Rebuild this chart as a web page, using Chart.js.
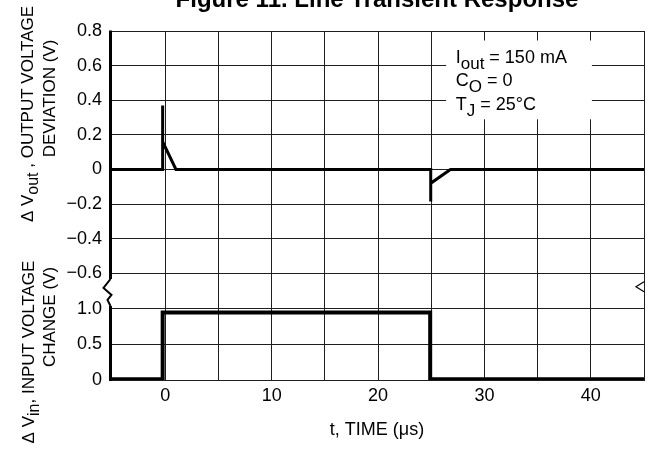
<!DOCTYPE html>
<html>
<head>
<meta charset="utf-8">
<script src="https://cdn.jsdelivr.net/npm/chart.js@4/dist/chart.umd.min.js"></script>
<style>
html,body{margin:0;padding:0;background:#fff;}
#wrap{width:649px;height:450px;position:relative;}
</style>
</head>
<body>
<div id="wrap"><canvas id="c" width="649" height="450"></canvas></div>
<script>
// ---- data ----
const outTime = [-5.2, -0.25, -0.25, -0.25, 1.0, 24.95, 24.95, 24.95, 26.8, 45];
const outDev  = [0, 0, 0.37, 0.16, 0, 0, -0.185, -0.08, 0, 0];
const inTime  = [-5.2, -0.25, -0.25, 24.9, 24.9, 45];
const inChange= [0.01, 0.01, 0.95, 0.95, 0.01, 0.01];

const xTicks  = [0, 5, 10, 15, 20, 25, 30, 35, 40, 45];
const xLabels = ['0', '', '10', '', '20', '', '30', '', '40', ''];
const y1Ticks = [-0.6, -0.4, -0.2, 0, 0.2, 0.4, 0.6, 0.8];
const y1Labels= ['\u22120.6', '\u22120.4', '\u22120.2', '0', '0.2', '0.4', '0.6', '0.8'];
const y2Ticks = [0, 0.5, 1.0, 1.5];
const y2Labels= ['0', '0.5', '1.0', ''];

const titleText = 'Figure 11. Line Transient Response';
const xTitle = 't, TIME (\u03bcs)';
const noteLines = [['I', 'out', ' = 150 mA'], ['C', 'O', ' = 0'], ['T', 'J', ' = 25\u00b0C']];
const y1Title = [['\u0394 V', 'out', ' , OUTPUT VOLTAGE'], ['DEVIATION (V)']];
const y2Title = [['\u0394 V', 'in', ', INPUT VOLTAGE'], ['CHANGE (V)']];

const FONT = '"Liberation Sans", Arial, Helvetica, sans-serif';
const GRID = '#1e1e1e';

function pts(xs, ys){ return xs.map((x,i)=>({x:x, y:ys[i]})); }

function drawRich(ctx, parts, x, y, size, subDy){
  // parts: [normal, sub, normal, ...]
  let cx = x;
  parts.forEach((p,i)=>{
    const sub = (i % 2 === 1);
    ctx.font = (sub ? size-1 : size) + 'px ' + FONT;
    ctx.fillText(p, cx, sub ? y + subDy : y);
    cx += ctx.measureText(p).width;
  });
}
function richWidth(ctx, parts, size){
  let w = 0;
  parts.forEach((p,i)=>{ ctx.font = ((i%2===1)? size-1 : size) + 'px ' + FONT; w += ctx.measureText(p).width; });
  return w;
}

const decor = {
  id: 'decor',
  beforeDatasetsDraw(chart){
    const {ctx, scales} = chart;
    const x = scales.x, y1 = scales.y1;
    ctx.save();
    const bx0 = x.getPixelForValue(26.4), bx1 = x.getPixelForValue(40.1);
    const by0 = y1.getPixelForValue(0.745), by1 = y1.getPixelForValue(0.29);
    ctx.fillStyle = '#fff';
    ctx.fillRect(bx0, by0, bx1 - bx0, by1 - by0);
    ctx.fillStyle = '#000';
    ctx.textBaseline = 'alphabetic';
    ctx.textAlign = 'left';
    const tx = x.getPixelForValue(27.3);
    noteLines.forEach((ln, i)=>{
      drawRich(ctx, ln, tx, by0 + 22 + i * 23.5, 18, 6);
    });
    ctx.restore();
  },
  afterDatasetsDraw(chart){
    const {ctx, chartArea: ca, scales} = chart;
    const y2 = scales.y2;
    ctx.save();
    ctx.strokeStyle = '#000';
    ctx.lineWidth = 3;
    const lx = ca.left + 0.5;
    const gTop = y2.getPixelForValue(1.42), gBot = y2.getPixelForValue(1.04);
    ctx.beginPath();
    ctx.moveTo(lx, ca.top - 0.5); ctx.lineTo(lx, gTop);
    ctx.moveTo(lx, gBot); ctx.lineTo(lx, ca.bottom + 1);
    ctx.stroke();
    // break squiggle on left axis
    ctx.lineWidth = 2;
    ctx.beginPath();
    ctx.moveTo(lx, gTop);
    ctx.lineTo(lx - 7, gTop + 9);
    ctx.lineTo(lx + 1, gTop + 16);
    ctx.lineTo(lx - 3, gTop + 21);
    ctx.lineTo(lx, gBot);
    ctx.stroke();
    // partial squiggle at right edge
    ctx.lineWidth = 1.2;
    const ry = y2.getPixelForValue(1.31);
    ctx.beginPath();
    ctx.moveTo(ca.right, ry - 5);
    ctx.lineTo(ca.right - 8, ry);
    ctx.lineTo(ca.right, ry + 5);
    ctx.stroke();
    ctx.restore();
  },
  afterDraw(chart){
    const {ctx, chartArea: ca} = chart;
    ctx.save();
    ctx.fillStyle = '#000';
    ctx.textBaseline = 'alphabetic';
    // main title
    ctx.textAlign = 'center';
    ctx.font = 'bold 24px ' + FONT;
    ctx.fillText(titleText, (ca.left + ca.right) / 2, 7);
    // x title
    ctx.font = '18px ' + FONT;
    ctx.fillText(xTitle, (ca.left + ca.right) / 2, 435);
    // y titles (rotated)
    ctx.textAlign = 'left';
    const drawRot = (parts, bx, cy, size, subDy) => {
      const w = richWidth(ctx, parts, size);
      ctx.save();
      ctx.translate(bx, cy);
      ctx.rotate(-Math.PI / 2);
      drawRich(ctx, parts, -w / 2, 0, size, subDy);
      ctx.restore();
    };
    drawRot(y1Title[0], 33, 114, 17, 5);
    drawRot(y1Title[1], 55, 98.5, 17, 5);
    drawRot(y2Title[0], 34, 352, 17, 5);
    drawRot(y2Title[1], 55, 317, 17, 5);
    ctx.restore();
  }
};

Chart.defaults.font.family = FONT;
Chart.defaults.color = '#000';

new Chart(document.getElementById('c'), {
  type: 'scatter',
  data: {
    datasets: [
      { label: 'Output deviation', data: pts(outTime, outDev), yAxisID: 'y1', showLine: true,
        borderColor: '#000', borderWidth: 3, pointRadius: 0, tension: 0, borderJoinStyle: 'miter', fill: false },
      { label: 'Input change', data: pts(inTime, inChange), yAxisID: 'y2', showLine: true,
        borderColor: '#000', borderWidth: 4, pointRadius: 0, tension: 0, borderJoinStyle: 'miter', fill: false }
    ]
  },
  options: {
    responsive: false,
    animation: false,
    devicePixelRatio: 1,
    layout: { padding: { top: 31, right: 0, bottom: 0, left: 0 } },
    plugins: { legend: { display: false }, title: { display: false }, tooltip: { enabled: false } },
    scales: {
      x: {
        type: 'linear', min: -5.2, max: 45,
        afterBuildTicks: (s) => { s.ticks = xTicks.map(v => ({ value: v })); },
        afterFit: (s) => { s.height = 70; },
        ticks: { font: { size: 18 }, color: '#000', padding: 5, maxRotation: 0, autoSkip: false,
                 callback: (v, i) => xLabels[i] },
        grid: { color: GRID, lineWidth: 1, drawTicks: false },
        border: { display: true, color: GRID, width: 1 }
      },
      y2: {
        type: 'linear', position: 'left', stack: 'v', stackWeight: 106.7, min: 0, max: 1.5,
        afterBuildTicks: (s) => { s.ticks = y2Ticks.map(v => ({ value: v })); },
        afterFit: (s) => { s.width = 110; },
        ticks: { font: { size: 18 }, color: '#000', padding: 8, autoSkip: false,
                 callback: (v, i) => y2Labels[i] },
        grid: { color: GRID, lineWidth: 1, drawTicks: false },
        border: { display: false }
      },
      y1: {
        type: 'linear', position: 'left', stack: 'v', stackWeight: 242.3, min: -0.6, max: 0.8,
        afterBuildTicks: (s) => { s.ticks = y1Ticks.map(v => ({ value: v })); },
        afterFit: (s) => { s.width = 110; },
        ticks: { font: { size: 18 }, color: '#000', padding: 8, autoSkip: false,
                 callback: (v, i) => y1Labels[i] },
        grid: { color: GRID, lineWidth: 1, drawTicks: false },
        border: { display: false }
      }
    }
  },
  plugins: [decor]
});
</script>
</body>
</html>
